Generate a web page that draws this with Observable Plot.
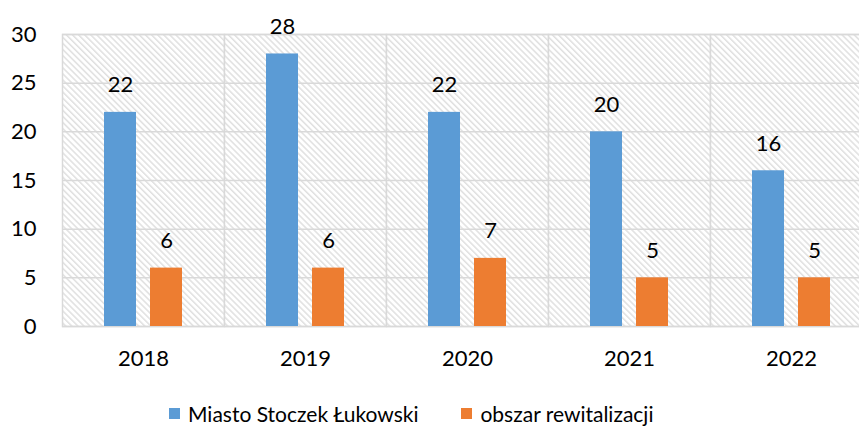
<!DOCTYPE html>
<html>
<head>
<meta charset="utf-8">
<script src="https://cdn.jsdelivr.net/npm/d3@7"></script>
<script src="https://cdn.jsdelivr.net/npm/@observablehq/plot@0.6"></script>
<style>
  html, body { margin: 0; padding: 0; background: #fff; overflow: hidden; width: 859px; height: 426px; }
  #legend { display: flex; justify-content: flex-start; align-items: center; gap: 43px; font-family: Lato, "Open Sans", sans-serif; font-size: 21px; color: #000; height: 56px; padding-left: 169px; width: 859px; box-sizing: border-box; }
  #legend .item { display: flex; align-items: center; gap: 8px; }
  #legend .sw { width: 11px; height: 11px; display: inline-block; }
</style>
</head>
<body>
<div id="chart"></div>
<div id="legend"></div>
<script>
const years = ["2018", "2019", "2020", "2021", "2022"];
const seriesNames = ["Miasto Stoczek Łukowski", "obszar rewitalizacji"];
const miasto = [22, 28, 22, 20, 16];
const obszar = [6, 6, 7, 5, 5];
const colors = ["#5b9bd5", "#ed7d31"];
const yTicks = [0, 5, 10, 15, 20, 25, 30];

const data = [];
years.forEach((yr, i) => {
  data.push({year: yr, series: seriesNames[0], value: miasto[i]});
  data.push({year: yr, series: seriesNames[1], value: obszar[i]});
});

const plot = Plot.plot({
  width: 872,
  height: 385,
  marginLeft: 62,
  marginRight: 0,
  marginTop: 34,
  marginBottom: 59,
  style: {fontFamily: "Lato, 'Open Sans', sans-serif", fontSize: "22px", color: "#000", background: "#fff", maxWidth: "none", overflow: "visible"},
  fx: {domain: years, padding: 0, axis: "bottom", tickSize: 0, tickPadding: 24, label: null},
  x: {domain: seriesNames, paddingInner: 0.3, paddingOuter: 0.91, axis: null},
  y: {domain: [0, 30], ticks: yTicks, tickSize: 0, tickPadding: 26, label: null},
  color: {domain: seriesNames, range: colors},
  marks: [
    Plot.frame({fill: "url(#hatch)", stroke: "#d9d9d9", strokeWidth: 1.5}),
    Plot.ruleY(yTicks, {stroke: "#d9d9d9", strokeWidth: 1.5}),
    Plot.barY(data, {fx: "year", x: "series", y: "value", fill: "series"}),
    Plot.text(data, {fx: "year", x: "series", y: "value", text: d => String(d.value), dy: -27, fontSize: 22, fill: "#000"})
  ]
});

const ns = "http://www.w3.org/2000/svg";
const defs = document.createElementNS(ns, "defs");
const pat = document.createElementNS(ns, "pattern");
pat.setAttribute("id", "hatch");
pat.setAttribute("patternUnits", "userSpaceOnUse");
pat.setAttribute("width", "4.3");
pat.setAttribute("height", "4.3");
pat.setAttribute("patternTransform", "rotate(-45)");
const bg = document.createElementNS(ns, "rect");
bg.setAttribute("width", "4.3"); bg.setAttribute("height", "4.3"); bg.setAttribute("fill", "#ffffff");
const stripe = document.createElementNS(ns, "rect");
stripe.setAttribute("width", "1.5"); stripe.setAttribute("height", "4.3"); stripe.setAttribute("fill", "#e0e0e0");
pat.appendChild(bg); pat.appendChild(stripe);
defs.appendChild(pat);
plot.insertBefore(defs, plot.firstChild);

document.getElementById("chart").appendChild(plot);

const legend = document.getElementById("legend");
seriesNames.forEach((name, i) => {
  const item = document.createElement("div");
  item.className = "item";
  const sw = document.createElement("span");
  sw.className = "sw";
  sw.style.background = colors[i];
  const label = document.createElement("span");
  label.textContent = name;
  item.appendChild(sw); item.appendChild(label);
  legend.appendChild(item);
});
</script>
</body>
</html>
